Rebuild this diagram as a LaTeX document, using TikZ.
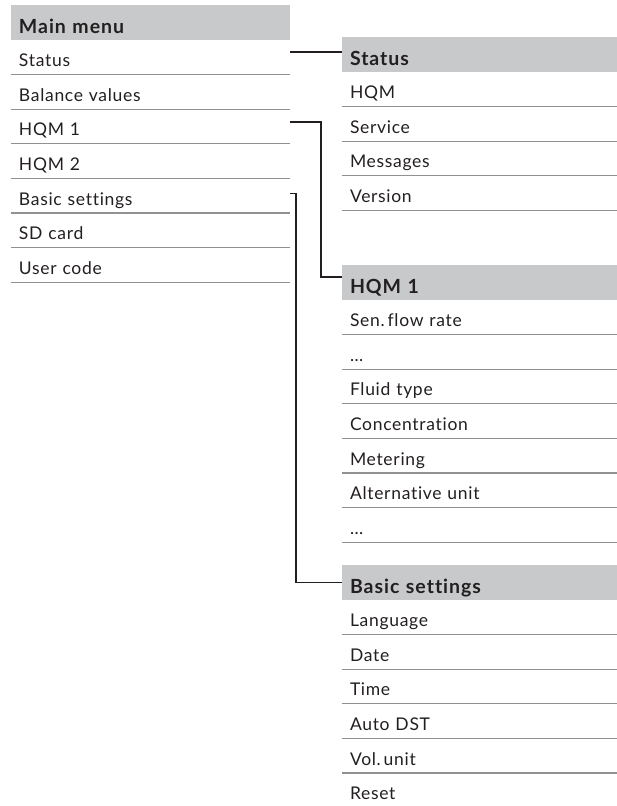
\documentclass[tikz,border=0pt]{standalone}
\usepackage{fontspec}
\setmainfont{Lato}[Ligatures={NoCommon},LetterSpace=4]
\newfontfamily\headfont{Lato}[Ligatures={NoCommon},LetterSpace=5]
\usetikzlibrary{positioning}
\definecolor{headgray}{RGB}{200,201,203}
\definecolor{rulegray}{RGB}{145,145,147}
\definecolor{inkgray}{RGB}{35,31,32}
\begin{document}
\begin{tikzpicture}[x=1pt,y=-1pt,
    every node/.style={inner xsep=8pt,inner ysep=0pt,outer sep=0pt,text=inkgray,font=\fontsize{17.5}{20}\selectfont},
    head/.style={fill=headgray,anchor=north west,text height=28pt,text depth=7pt,font=\headfont\fontsize{19.5}{22}\selectfont\bfseries},
    item/.style={text height=26.6pt,text depth=8pt},
    rule/.style={draw=rulegray,line width=1.3pt},
    link/.style={draw=inkgray,line width=1.3pt}]
    \useasboundingbox (0,0) rectangle (617,806);
    \def\mwidth{263pt} %main menu
    \def\swidth{259pt} %sub menus
    % main menu
    \node[head,text width=\mwidth] (main) at (11,5) {Main menu};
    \foreach \mname/\mtext [remember=\mname as \mlast (initially main)] in {mstatus/Status,mbal/Balance values,mhqma/HQM 1,mhqmb/HQM 2,mbasic/Basic settings,msd/SD card,muser/User code}{
        \node[item,text width=\mwidth,below=0pt of \mlast] (\mname) {\mtext};
        \draw[rule] (\mname.south west)--(\mname.south east);
    }
    % Status
    \node[head,text width=\swidth] (status) at (342,37) {Status};
    \foreach \mname/\mtext [remember=\mname as \mlast (initially status)] in {shqm/HQM,sserv/Service,smsg/Messages,sver/Version}{
        \node[item,text width=\swidth,below=0pt of \mlast] (\mname) {\mtext};
        \draw[rule] (\mname.south west)--(\mname.south east);
    }
    % HQM 1
    \node[head,text width=\swidth] (hqma) at (342,265) {HQM 1};
    \foreach \mname/\mtext [remember=\mname as \mlast (initially hqma)] in {hflow/Sen.\,flow rate,hdotsa/\dots,hfluid/Fluid type,hconc/Concentration,hmeter/Metering,halt/Alternative unit,hdotsb/\dots}{
        \node[item,text width=\swidth,below=0pt of \mlast] (\mname) {\mtext};
        \draw[rule] (\mname.south west)--(\mname.south east);
    }
    % Basic settings
    \node[head,text width=\swidth] (basic) at (342,565) {Basic settings};
    \foreach \mname/\mtext [remember=\mname as \mlast (initially basic)] in {blang/Language,bdate/Date,btime/Time,bdst/Auto DST,bvol/Vol.\,unit,breset/Reset}{
        \node[item,text width=\swidth,below=0pt of \mlast] (\mname) {\mtext};
        \draw[rule] (\mname.south west)--(\mname.south east);
    }
    % connectors
    \coordinate (cstatus) at ([yshift=5pt]mstatus.east);
    \coordinate (chqma) at ([yshift=4.5pt]mhqma.east);
    \coordinate (chqmb) at ([yshift=5.5pt]hqma.west);
    \coordinate (cbasic) at ([yshift=2pt]mbasic.east);
    \draw[link,line width=2pt] (cstatus)--(status.west |- cstatus);
    \draw[link] (chqma)--([xshift=31pt]chqma)|-(chqmb);
    \draw[link] (cbasic)--([xshift=6pt]cbasic)|-(basic.west);
\end{tikzpicture}
\end{document}
